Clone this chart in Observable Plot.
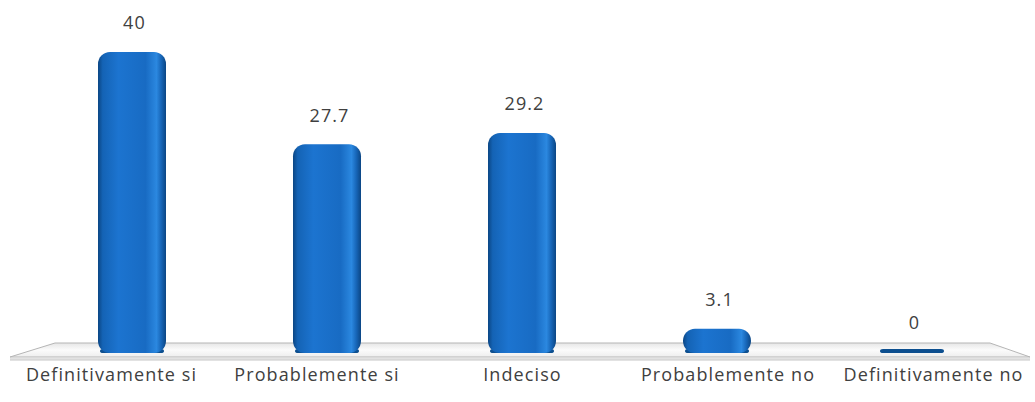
<!DOCTYPE html>
<html>
<head>
<meta charset="utf-8">
<script src="https://cdn.jsdelivr.net/npm/d3@7"></script>
<script src="https://cdn.jsdelivr.net/npm/@observablehq/plot@0.6"></script>
<style>
  html, body { margin: 0; padding: 0; background: #ffffff; }
  #chart svg { display: block; }
  #chart svg text { letter-spacing: 1.1px; }
</style>
</head>
<body>
<div id="chart"></div>
<script>
const categories = ["Definitivamente si", "Probablemente si", "Indeciso", "Probablemente no", "Definitivamente no"];
const values = [40, 27.7, 29.2, 3.1, 0];
const valueLabels = ["40", "27.7", "29.2", "3.1", "0"];

const data = categories.map((c, i) => ({cat: c, val: values[i], label: valueLabels[i], idx: i}));

const FONT = "'Open Sans', 'Noto Sans', sans-serif";
const textStyle = {fontSize: 18, fill: "#404040"};

// category labels spread slightly outward (perspective of the 3D floor)
const catLabelMarks = data.map(d =>
  Plot.text([d], {x: "cat", text: "cat", frameAnchor: "bottom", dy: 28, dx: (d.idx - 2) * 10.5, ...textStyle})
);

const plot = Plot.plot({
  width: 1035,
  height: 402,
  marginLeft: 34,
  marginRight: 24,
  marginTop: 52,
  marginBottom: 50,
  style: {fontFamily: FONT, background: "transparent", overflow: "visible"},
  x: {domain: categories, paddingInner: 0.65, paddingOuter: 0.325, axis: null},
  y: {domain: [0, 40], axis: null},
  marks: [
    Plot.barY(data, {x: "cat", y1: 0, y2: 0, insetTop: -3, insetBottom: -1, insetLeft: 2, insetRight: 2, rx: 3, fill: "#0d4f8f"}),
    Plot.barY(data.filter(d => d.val > 0), {x: "cat", y: "val", fill: "url(#barGrad)", rx: 12, ry: 12, insetBottom: -1}),
    Plot.text(data, {x: "cat", y: "val", text: "label", dy: -29, dx: 2, ...textStyle}),
    ...catLabelMarks
  ]
});

const svg = d3.select(plot);
const defs = svg.insert("defs", ":first-child");
const g = defs.append("linearGradient").attr("id", "barGrad").attr("x1", 0).attr("x2", 1).attr("y1", 0).attr("y2", 0);
[[0, "#0b4684"], [0.07, "#1463b5"], [0.3, "#1c74d0"], [0.7, "#186bc3"], [0.86, "#2b88e0"], [0.93, "#1766b8"], [1, "#0b4684"]]
  .forEach(([o, c]) => g.append("stop").attr("offset", o).attr("stop-color", c));
const fg = defs.append("linearGradient").attr("id", "floorGrad").attr("x1", 0).attr("x2", 0).attr("y1", 0).attr("y2", 1);
[[0, "#e6e6e6"], [0.5, "#fbfbfb"], [1, "#eeeeee"]].forEach(([o, c]) => fg.append("stop").attr("offset", o).attr("stop-color", c));

const xs = plot.scale("x"), ys = plot.scale("y");
const [xr0, xr1] = xs.range;
const y0 = ys.apply(0);
const backY = y0 - 9, frontY = y0 + 5;
const floor = svg.insert("g", "g");
floor.append("polygon")
  .attr("points", [[xr0 + 21, backY], [xr1 - 21, backY], [xr1 + 19, frontY], [xr0 - 24, frontY]].map(p => p.join(",")).join(" "))
  .attr("fill", "url(#floorGrad)").attr("stroke", "#b5b5b5").attr("stroke-width", 1);
floor.append("line").attr("x1", xr0 - 24).attr("x2", xr1 + 19).attr("y1", frontY + 2.5).attr("y2", frontY + 2.5)
  .attr("stroke", "#d8d8d8").attr("stroke-width", 2.5);

document.getElementById("chart").appendChild(plot);
</script>
</body>
</html>
